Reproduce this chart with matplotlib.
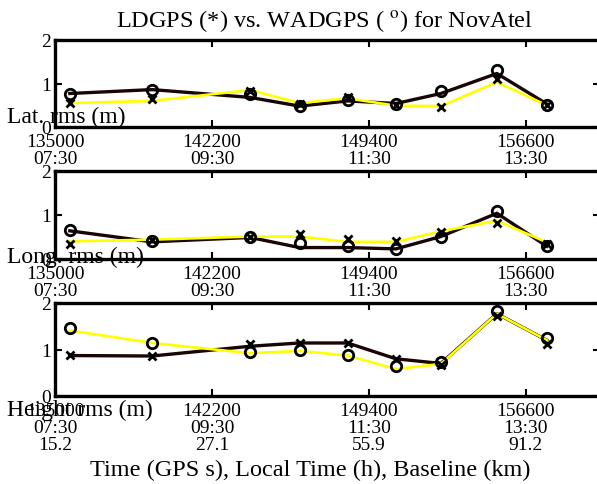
import matplotlib.pyplot as plt
import numpy as np

plt.rcParams['font.family'] = ['Liberation Serif', 'DejaVu Serif']
plt.rcParams['mathtext.fontset'] = 'stix'

# GPS time of each solution (s)
gps_time = [135680, 139460, 143950, 146220, 148420, 150640, 152700, 155270, 157560]

tick_gps = [135000, 142200, 149400, 156600]
tick_local = ["07:30", "09:30", "11:30", "13:30"]
tick_baseline = ["15.2", "27.1", "55.9", "91.2"]

# Lat. rms (m)
lat_black = [0.77, 0.86, 0.68, 0.48, 0.60, 0.54, 0.77, 1.23, 0.53]
lat_yellow = [0.55, 0.60, 0.85, 0.55, 0.66, 0.49, 0.48, 1.03, 0.50]
lat_o = [0.77, 0.85, 0.76, 0.48, 0.63, 0.54, 0.82, 1.30, 0.51]
lat_x = [0.56, 0.64, 0.83, 0.53, 0.70, 0.51, 0.45, 1.10, 0.51]

# Long. rms (m)
lon_black = [0.64, 0.39, 0.49, 0.26, 0.26, 0.23, 0.51, 1.04, 0.29]
lon_yellow = [0.40, 0.44, 0.51, 0.51, 0.39, 0.39, 0.63, 0.87, 0.38]
lon_o = [0.66, 0.42, 0.50, 0.36, 0.30, 0.23, 0.51, 1.09, 0.29]
lon_x = [0.35, 0.44, 0.50, 0.57, 0.45, 0.42, 0.62, 0.81, 0.34]

# Height rms (m)
hgt_black = [0.87, 0.86, 1.07, 1.14, 1.14, 0.80, 0.70, 1.77, 1.20]
hgt_yellow = [1.41, 1.14, 0.92, 0.97, 0.87, 0.58, 0.69, 1.77, 1.20]
hgt_o = [1.46, 1.14, 0.94, 0.99, 0.88, 0.65, 0.73, 1.82, 1.25]
hgt_x = [0.88, 0.85, 1.12, 1.14, 1.14, 0.80, 0.67, 1.73, 1.12]

W, H = 597, 485
fig = plt.figure(figsize=(W / 100, H / 100), dpi=100)

# axes boxes in pixels: left, top, right, bottom
boxes = [(55, 41, 600, 128), (55, 172, 600, 260), (55, 304, 600, 397)]
panels = [
    (lat_black, lat_yellow, lat_o, lat_x, "Lat. rms (m)", 117),
    (lon_black, lon_yellow, lon_o, lon_x, "Long. rms (m)", 257),
    (hgt_black, hgt_yellow, hgt_o, hgt_x, "Height rms (m)", 410),
]

for i, ((l, t, r, b), (blk, yel, mo, mx, lab, ly)) in enumerate(zip(boxes, panels)):
    ax = fig.add_axes([l / W, 1 - b / H, (r - l) / W, (b - t) / H])
    ax.plot(gps_time, blk, color='#1a0505', lw=2.4, zorder=2)
    ax.plot(gps_time, yel, color='#ffff00', lw=1.9, zorder=3)
    ax.plot(gps_time, mo, ls='none', marker='o', ms=7.5, mfc='none',
            mec='black', mew=2, zorder=4)
    ax.plot(gps_time, mx, ls='none', marker='x', ms=6, mec='black',
            mew=2, zorder=4)
    ax.set_xlim(135000, 160000)
    ax.set_ylim(0, 2)
    ax.set_yticks([0, 1, 2])
    ax.set_xticks(tick_gps)
    if i == 2:
        labels = [f"{g}\n{h}\n{k}" for g, h, k in zip(tick_gps, tick_local, tick_baseline)]
    else:
        labels = [f"{g}\n{h}" for g, h in zip(tick_gps, tick_local)]
    ax.set_xticklabels(labels, linespacing=1.0)
    ax.tick_params(direction='in', length=5, width=1.5, labelsize=14,
                   top=True, right=True, pad=4, colors='black')
    ax.tick_params(axis='y', pad=3)
    for s in ax.spines.values():
        s.set_linewidth(2.4)
    fig.text(7 / W, 1 - ly / H, lab, fontsize=17, ha='left', va='center')

fig.text(325 / W, 1 - 21 / H, r"LDGPS (*) vs. WADGPS ( $^{\mathrm{o}}$) for NovAtel",
         fontsize=17.5, ha='center', va='center')
fig.text(310 / W, 1 - 470 / H, "Time (GPS s), Local Time (h), Baseline (km)",
         fontsize=17.5, ha='center', va='center')

fig.savefig("out.png", dpi=100)
